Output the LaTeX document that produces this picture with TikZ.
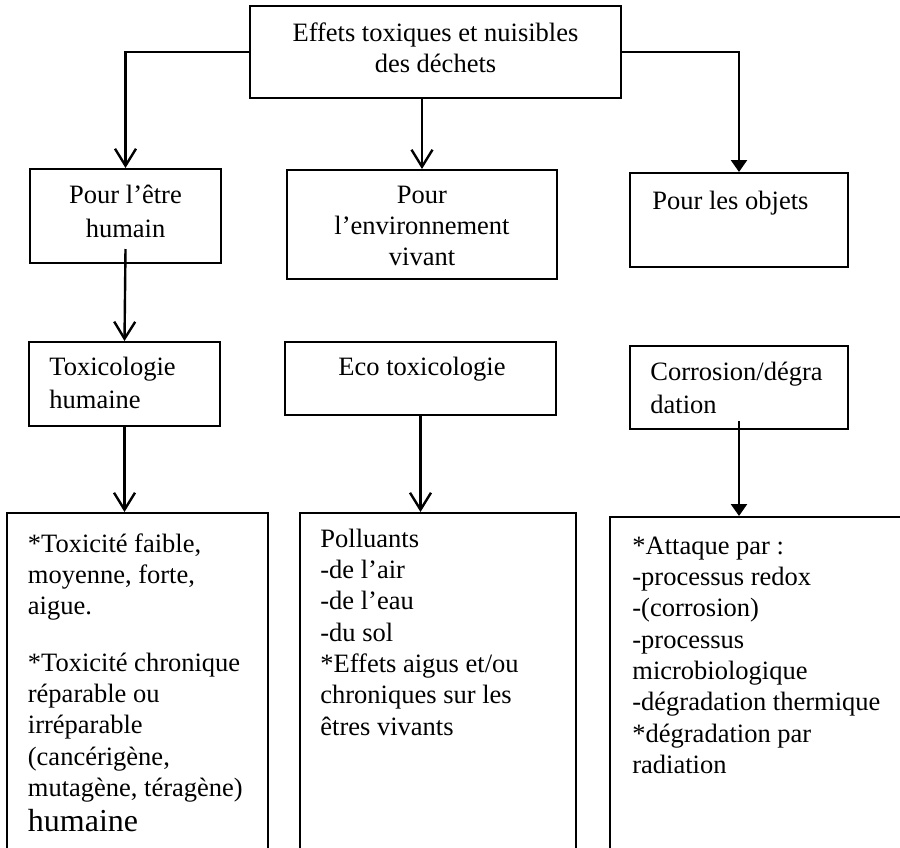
\documentclass[tikz,border=0pt]{standalone}
\usepackage{fontspec}
\setmainfont{Liberation Serif}
\usetikzlibrary{arrows.meta}
\tikzset{
  boite/.style={draw,line width=1pt,inner sep=0pt},
  texte/.style={inner sep=0pt,font=\fontsize{13.25}{15.65}\selectfont},
  fleche/.style={line width=1.2pt,-{Straight Barb[length=8.5pt,width=10.5pt]}},
  flechep/.style={line width=1.2pt,-{Triangle[length=6pt,width=8pt]}}
}
\begin{document}
\begin{tikzpicture}[x=0.5pt,y=-0.5pt]
  \useasboundingbox (0,0) rectangle (900,847);
  \clip (0,0) rectangle (900,847);
  \node[boite,minimum width=185.5pt,minimum height=46pt] (top) at (435.5,52) {};
  \node[boite,minimum width=95.5pt,minimum height=47pt] (b1) at (125.5,216) {};
  \node[boite,minimum width=135pt,minimum height=54.5pt] (b2) at (422,224.5) {};
  \node[boite,minimum width=109pt,minimum height=47pt] (b3) at (739,220) {};
  \node[boite,minimum width=95.5pt,minimum height=42pt] (c1) at (124.5,384) {};
  \node[boite,minimum width=135.5pt,minimum height=36.5pt] (c2) at (420.5,378.5) {};
  \node[boite,minimum width=109pt,minimum height=41.5pt] (c3) at (739,387.5) {};
  \node[boite,minimum width=130.5pt,minimum height=183.5pt] (d1) at (137.5,696.5) {};
  \node[boite,minimum width=138pt,minimum height=183.5pt] (d2) at (438,696.5) {};
  \node[boite,minimum width=160pt,minimum height=181.5pt] (d3) at (770,698.5) {};

  \node[texte,anchor=north,align=center] (t0) at (435.5,18.8) {\strut Effets toxiques et nuisibles\\des déchets};
  \node[texte,anchor=north,align=center] (t1) at (125.5,181) {\strut Pour l’être\\[1.5pt]humain};
  \node[texte,anchor=north,align=center] (t2) at (422,181) {\strut Pour\\l’environnement\\vivant};
  \node[texte,anchor=north west] (t3) at (652,187) {\strut Pour les objets};
  \node[texte,anchor=north west,align=left] (t4) at (49,353) {\strut Toxicologie\\[1pt]humaine};
  \node[texte,anchor=north] (t5) at (422,353) {\strut Eco toxicologie};
  \node[texte,anchor=north west,align=left] (t6) at (650,358) {\strut Corrosion/dégra\\[1pt]dation};
  \node[texte,anchor=north west,align=left] (t7) at (27.5,530) {\strut{*}Toxicité faible,\\moyenne, forte,\\aigue.\\[12.5pt]{*}Toxicité chronique\\réparable ou\\irréparable\\(cancérigène,\\mutagène, téragène)\\[2pt]{\fontsize{16}{19}\selectfont humaine}};
  \node[texte,anchor=north west,align=left] (t8) at (320,525) {\strut Polluants\\-de l’air\\-de l’eau\\-du sol\\{*}Effets aigus et/ou\\chroniques sur les\\êtres vivants};
  \node[texte,anchor=north west,align=left] (t9) at (632,532) {\strut{*}Attaque par :\\-processus redox\\-(corrosion)\\-processus\\microbiologique\\-dégradation thermique\\{*}dégradation par\\radiation};

  \draw[fleche] (top.west) -| (b1.north);
  \draw[fleche] (b2.north |- top.south) -- (b2.north);
  \draw[flechep] (top.east) -| (b3.north);
  \draw[fleche] ([yshift=7.5pt]b1.south) -- (c1.north);
  \draw[fleche] (c1.south) -- (c1.south |- d1.north);
  \draw[fleche] (c2.south) -- (c2.south |- d2.north);
  \draw[flechep] ([yshift=4.5pt]c3.south) -- (c3.south |- d3.north);
\end{tikzpicture}
\end{document}
